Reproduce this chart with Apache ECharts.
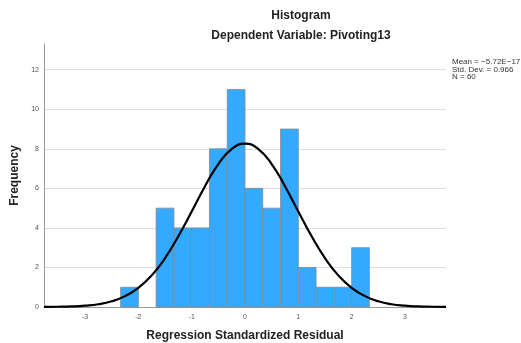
<!DOCTYPE html>
<html><head><meta charset="utf-8">
<script src="https://cdn.jsdelivr.net/npm/echarts@6/dist/echarts.min.js"></script>
<style>html,body{margin:0;padding:0;background:#fff}#c{width:521px;height:343px}</style>
</head><body><div id="c"></div>
<script>
// Histogram bins (left edge, right edge) and frequencies
const binStart = [-2.333, -2.0, -1.667, -1.333, -1.0, -0.667, -0.333, 0.0, 0.333, 0.667, 1.0, 1.333, 1.667, 2.0];
const binEnd   = [-2.0, -1.667, -1.333, -1.0, -0.667, -0.333, 0.0, 0.333, 0.667, 1.0, 1.333, 1.667, 2.0, 2.333];
const counts   = [1, 0, 5, 4, 4, 8, 11, 6, 5, 9, 2, 1, 1, 3];
// Normal curve
const curveX = [-3.77, -3.5, -3.25, -3.0, -2.75, -2.5, -2.25, -2.0, -1.75, -1.5, -1.25, -1.0, -0.75, -0.5, -0.25, 0, 0.25, 0.5, 0.75, 1.0, 1.25, 1.5, 1.75, 2.0, 2.25, 2.5, 2.75, 3.0, 3.25, 3.5, 3.77];
const curveY = [0.004, 0.012, 0.029, 0.067, 0.14, 0.29, 0.55, 0.97, 1.6, 2.47, 3.58, 4.83, 6.11, 7.23, 7.99, 8.26, 7.99, 7.23, 6.11, 4.83, 3.58, 2.47, 1.6, 0.97, 0.55, 0.29, 0.14, 0.067, 0.029, 0.012, 0.004];
const xTicks = [-3, -2, -1, 0, 1, 2, 3];
const yTicks = [0, 2, 4, 6, 8, 10, 12];
const statsLines = ['Mean = \u22125.72E\u221217', 'Std. Dev. = 0.966', 'N = 60'];

const chart = echarts.init(document.getElementById('c'));
const font = 'Liberation Sans, Arial, sans-serif';
chart.setOption({
  animation: false,
  title: [
    {text: 'Histogram', left: 296, top: 5, textAlign: 'center',
     textStyle: {fontFamily: font, fontSize: 12, fontWeight: 'bold', color: '#222'}},
    {text: 'Dependent Variable: Pivoting13', left: 296, top: 25, textAlign: 'center',
     textStyle: {fontFamily: font, fontSize: 12, fontWeight: 'bold', color: '#222'}}
  ],
  graphic: [{
    type: 'text', left: 452, top: 58,
    style: {text: statsLines.join('\n'), font: '8px ' + font, fill: '#333', lineHeight: 7.5}
  }],
  grid: {left: 44, right: 75, top: 44, bottom: 36, containLabel: false, outerBoundsMode: 'none'},
  xAxis: {
    type: 'value', min: -3.77, max: 3.77,
    name: 'Regression Standardized Residual', nameLocation: 'middle', nameGap: 23,
    nameTextStyle: {fontFamily: font, fontSize: 12, fontWeight: 'bold', color: '#222'},
    axisLine: {show: true, onZero: false, lineStyle: {color: '#999', width: 1}},
    axisTick: {show: false},
    splitLine: {show: false},
    axisLabel: {customValues: xTicks, fontFamily: font, fontSize: 7, color: '#555', margin: 7}
  },
  yAxis: {
    type: 'value', min: 0, max: 13.3,
    name: 'Frequency', nameLocation: 'middle', nameGap: 21,
    nameTextStyle: {fontFamily: font, fontSize: 12, fontWeight: 'bold', color: '#222'},
    axisLine: {show: true, onZero: false, lineStyle: {color: '#999', width: 1}},
    axisTick: {show: false, customValues: yTicks},
    axisLabel: {customValues: yTicks, fontFamily: font, fontSize: 7, color: '#555', margin: 5},
    splitLine: {show: true, lineStyle: {color: '#ddd', width: 1}}
  },
  series: [
    {
      type: 'custom',
      data: counts.map((c, i) => [binStart[i], binEnd[i], c]),
      renderItem: function (params, api) {
        const c = api.value(2);
        if (c <= 0) return null;
        const p0 = api.coord([api.value(0), c]);
        const p1 = api.coord([api.value(1), 0]);
        return {
          type: 'rect',
          shape: {x: p0[0], y: p0[1], width: p1[0] - p0[0], height: p1[1] - p0[1]},
          style: {fill: '#33aaff', stroke: '#888', lineWidth: 0.8}
        };
      },
      encode: {x: [0, 1], y: 2}, z: 2
    },
    {
      type: 'line', smooth: true, symbol: 'none', z: 3,
      data: curveX.map((x, i) => [x, curveY[i]]),
      lineStyle: {color: '#000', width: 2.2}
    }
  ]
});
</script></body></html>
